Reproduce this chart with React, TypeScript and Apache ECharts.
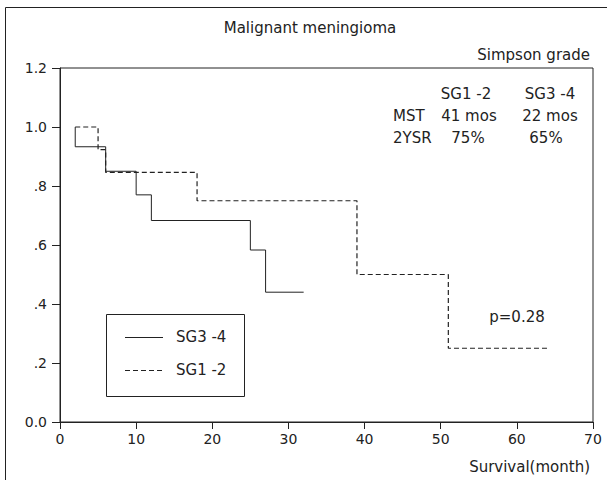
import React, { useEffect, useRef } from "react";
import * as echarts from "echarts";

const solidTimes = [2, 2, 6, 10, 12, 25, 27, 32];
const solidSurv = [1.0, 0.933, 0.85, 0.77, 0.683, 0.583, 0.44, 0.44];
const dashTimes = [2, 5, 6, 18, 39, 51, 64];
const dashSurv = [1.0, 0.923, 0.846, 0.75, 0.5, 0.25, 0.25];
const tableHeader = ["SG1 -2", "SG3 -4"];
const tableMST = ["MST", "41 mos", "22 mos"];
const table2YSR = ["2YSR", "75%", "65%"];

const FONT = "DejaVu Sans";
const INK = "#222";

export default function App() {
  const ref = useRef<HTMLDivElement>(null);
  useEffect(() => {
    if (!ref.current) return;
    const chart = echarts.init(ref.current, null, { renderer: "svg" });
    const txt = (x: number, y: number, text: string, align = "center") => ({
      type: "text",
      x,
      y,
      style: { text, fill: INK, font: `15px '${FONT}'`, textAlign: align, textVerticalAlign: "middle" },
    });
    chart.setOption({
      animation: false,
      grid: { left: 60, right: 14, top: 68, bottom: 58, show: true, borderColor: INK, borderWidth: 1 },
      xAxis: {
        type: "value",
        min: 0,
        max: 70,
        interval: 10,
        axisLine: { lineStyle: { color: INK } },
        axisTick: { show: true, length: 7, lineStyle: { color: INK } },
        axisLabel: { color: INK, fontFamily: FONT, fontSize: 14, margin: 10 },
        splitLine: { show: false },
      },
      yAxis: {
        type: "value",
        min: 0,
        max: 1.2,
        interval: 0.2,
        axisLine: { show: true, lineStyle: { color: INK } },
        axisTick: { show: true, length: 8, lineStyle: { color: INK } },
        axisLabel: {
          color: INK,
          fontFamily: FONT,
          fontSize: 14,
          margin: 13,
          formatter: (v: number) => {
            const s = v.toFixed(1);
            return v > 0 && v < 1 ? s.slice(1) : s;
          },
        },
        splitLine: { show: false },
      },
      series: [
        {
          type: "line",
          name: "SG3 -4",
          step: "end",
          symbol: "none",
          data: solidTimes.map((t, i) => [t, solidSurv[i]]),
          lineStyle: { color: INK, width: 1 },
        },
        {
          type: "line",
          name: "SG1 -2",
          step: "end",
          symbol: "none",
          data: dashTimes.map((t, i) => [t, dashSurv[i]]),
          lineStyle: { color: INK, width: 1.2, type: [5, 3] },
        },
      ],
      graphic: [
        { type: "rect", shape: { x: 5.5, y: 7.5, width: 700, height: 600 }, style: { fill: "none", stroke: INK, lineWidth: 1 } },
        txt(310, 28, "Malignant meningioma"),
        txt(590, 55, "Simpson grade", "right"),
        txt(466, 94, tableHeader[0]),
        txt(550, 94, tableHeader[1]),
        txt(393, 116, tableMST[0], "left"),
        txt(469, 116, tableMST[1]),
        txt(550, 116, tableMST[2]),
        txt(393, 138, table2YSR[0], "left"),
        txt(468, 138, table2YSR[1]),
        txt(546, 138, table2YSR[2]),
        txt(517, 317, "p=0.28"),
        txt(590, 467, "Survival(month)", "right"),
        { type: "rect", shape: { x: 106.5, y: 314.5, width: 138, height: 82 }, style: { fill: "#fff", stroke: INK, lineWidth: 1 } },
        { type: "line", shape: { x1: 125, y1: 337.5, x2: 163, y2: 337.5 }, style: { stroke: INK, lineWidth: 1 } },
        { type: "line", shape: { x1: 125, y1: 370.5, x2: 163, y2: 370.5 }, style: { stroke: INK, lineWidth: 1.2, lineDash: [5, 3] } },
        txt(176, 337, "SG3 -4", "left"),
        txt(176, 370, "SG1 -2", "left"),
      ],
    });
    return () => chart.dispose();
  }, []);
  return <div ref={ref} style={{ width: 607, height: 480, position: "absolute", left: 0, top: 0 }} />;
}
